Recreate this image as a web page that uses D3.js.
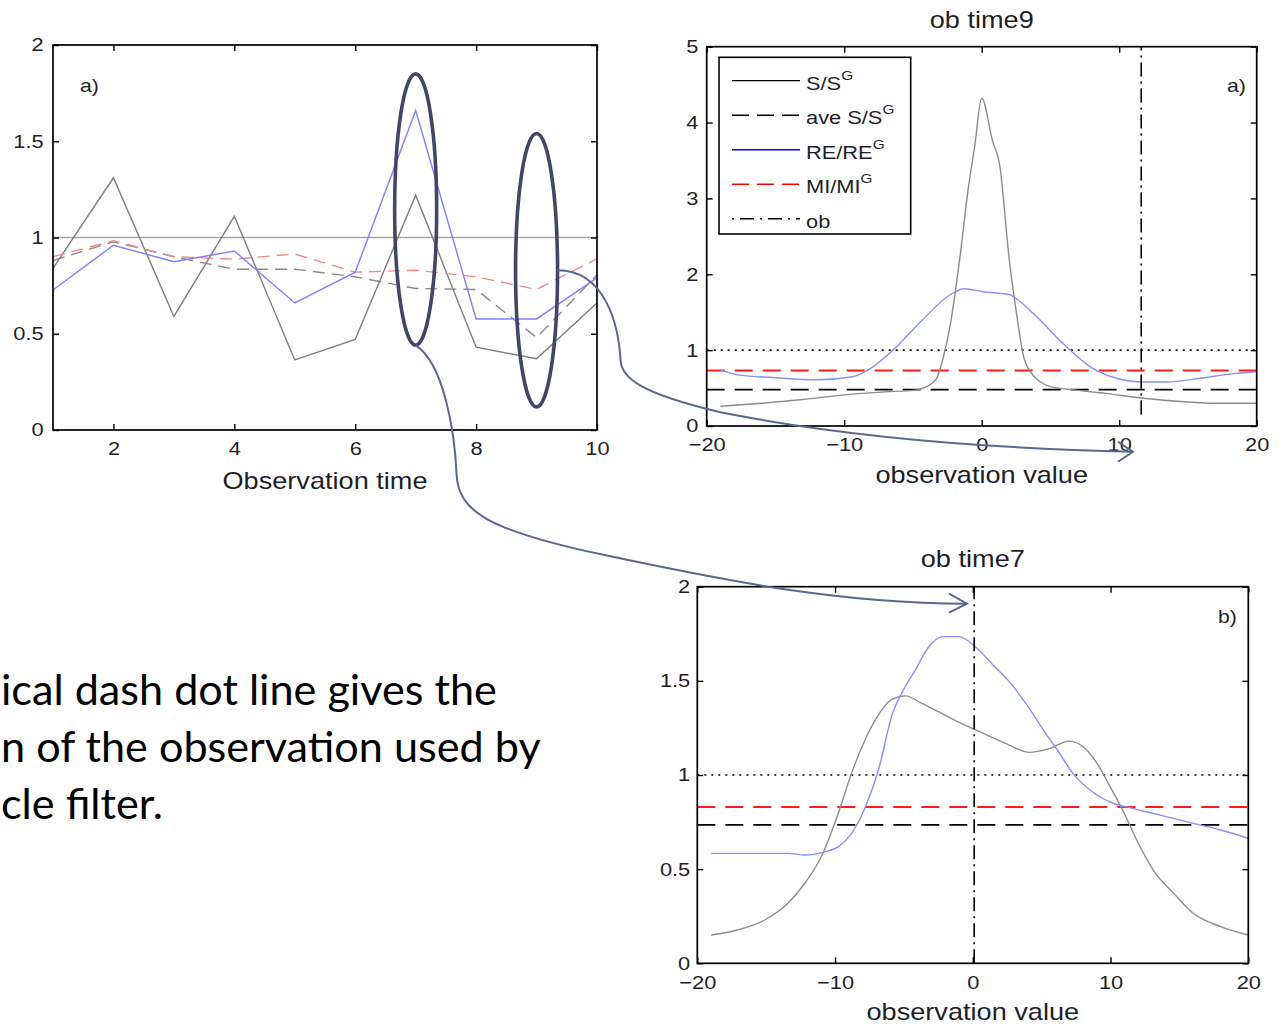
<!DOCTYPE html>
<html>
<head>
<meta charset="utf-8">
<script src="https://cdn.jsdelivr.net/npm/d3@7"></script>
<style>
  body { margin: 0; background: #fff; }
  svg { display: block; }
</style>
</head>
<body>
<svg id="fig" width="1282" height="1024"></svg>
<script>
// ---- Panel a (left): normalised diagnostics per observation time ----
const obsTimes = [1, 2, 3, 4, 5, 6, 7, 8, 9, 10];
const ssRatio  = [0.84, 1.31, 0.59, 1.11, 0.364, 0.47, 1.22, 0.43, 0.37, 0.66];
const aveSsRatio = [0.88, 0.978, 0.90, 0.835, 0.835, 0.796, 0.735, 0.73, 0.48, 0.805];
const reRatio  = [0.727, 0.96, 0.874, 0.93, 0.66, 0.82, 1.66, 0.577, 0.577, 0.79];
const miRatio  = [0.90, 0.983, 0.90, 0.888, 0.914, 0.82, 0.83, 0.796, 0.73, 0.89];
const leftXTicks = [2, 4, 6, 8, 10];
const leftYTicks = [0, 0.5, 1, 1.5, 2];
// times singled out and the span of each highlight
const highlightTimes = [7, 9];
const highlightLo = [0.44, 0.12];
const highlightHi = [1.85, 1.54];

// ---- Panel "ob time9": diagnostics as functions of the observation value ----
const t9SsX = [-19, -16, -13, -10, -7, -5, -4, -3.3, -2.8, -2.3, -1.6, -1.0, -0.5, 0, 0.8, 1.3, 2.0, 2.6, 3.0, 3.6, 4.2, 5.0, 7, 9, 11.6, 14.7, 17, 20];
const t9SsY = [0.26, 0.30, 0.35, 0.41, 0.45, 0.47, 0.52, 0.62, 0.90, 1.32, 2.2, 3.1, 3.7, 4.32, 3.75, 3.45, 2.2, 1.4, 0.95, 0.70, 0.59, 0.52, 0.47, 0.43, 0.37, 0.32, 0.30, 0.30];
const t9ReX = [-19, -17.6, -15.2, -12, -9.4, -7.9, -6.45, -4.3, -2.3, -1.3, 0.1, 2.06, 2.5, 4.0, 5.9, 7.9, 9.8, 11.8, 13.5, 15.9, 18.3, 20];
const t9ReY = [0.74, 0.67, 0.64, 0.61, 0.65, 0.78, 1.0, 1.40, 1.73, 1.81, 1.77, 1.73, 1.68, 1.44, 1.09, 0.78, 0.63, 0.58, 0.58, 0.63, 0.69, 0.715];
const t9AveSs = 0.48;
const t9Mi = 0.73;
const t9Ob = 11.6;
const t9XTicks = [-20, -10, 0, 10, 20];
const t9YTicks = [0, 1, 2, 3, 4, 5];

// ---- Panel "ob time7" ----
const t7SsX = [-19, -17.1, -15.1, -13.4, -12.2, -11, -9.75, -8.8, -7.8, -7.1, -5.9, -4.9, -3.7, -2.5, -1.0, 0.2, 1.4, 2.6, 4.1, 5.55, 7.0, 8.0, 8.95, 9.95, 10.9, 11.9, 13.1, 14.6, 16.0, 18.0, 20];
const t7SsY = [0.15, 0.177, 0.23, 0.32, 0.425, 0.566, 0.80, 1.01, 1.19, 1.29, 1.40, 1.42, 1.38, 1.336, 1.28, 1.24, 1.20, 1.16, 1.12, 1.14, 1.18, 1.15, 1.07, 0.94, 0.81, 0.655, 0.495, 0.37, 0.266, 0.195, 0.15];
const t7ReX = [-19, -13.4, -12.2, -10.7, -9.75, -8.8, -7.8, -6.8, -5.9, -4.9, -4.16, -3.2, -2.2, -1.0, 0.2, 1.4, 2.6, 3.85, 5.3, 6.3, 7.25, 8.7, 10.2, 11.6, 13.6, 16.0, 18.0, 20];
const t7ReY = [0.584, 0.584, 0.575, 0.593, 0.62, 0.69, 0.83, 1.04, 1.31, 1.47, 1.56, 1.68, 1.735, 1.735, 1.68, 1.59, 1.50, 1.38, 1.22, 1.115, 1.01, 0.91, 0.85, 0.823, 0.787, 0.743, 0.708, 0.664];
const t7AveSs = 0.735;
const t7Mi = 0.83;
const t7Ob = 0.1;
const t7XTicks = [-20, -10, 0, 10, 20];
const t7YTicks = [0, 0.5, 1, 1.5, 2];

const legendLabels = ["S/S", "ave S/S", "RE/RE", "MI/MI", "ob"];
const legendSup = ["G", "G", "G", "G", ""];
const noteLines = ["ical dash dot line gives the", "n of the observation used by", "cle filter."];

// ---------------------------------------------------------------
const FONT = "'Liberation Sans', Arial, sans-serif";
const SX = 1.18;            // the figure's lettering is set slightly wide
const tickFmt = d3.format("~g");
const svg = d3.select("#fig");
svg.append("rect").attr("width", 1282).attr("height", 1024).attr("fill", "#fff");

function label(g, x, y, txt, size, anchor) {
  return g.append("text")
    .attr("transform", `translate(${x},${y}) scale(${SX},1)`)
    .attr("text-anchor", anchor || "middle")
    .attr("font-family", FONT)
    .attr("font-size", size)
    .attr("fill", "#1e1e28")
    .text(txt);
}

function axes(g, xs, ys, xt, yt, xpad, ypad) {
  const [x0, x1] = xs.range();
  const [y0, y1] = ys.range();
  g.append("g").attr("transform", `translate(0,${y0})`)
    .call(d3.axisBottom(xs).tickValues(xt).tickSize(-6).tickPadding(xpad).tickFormat(tickFmt));
  g.append("g").attr("transform", `translate(0,${y1})`)
    .call(d3.axisTop(xs).tickValues(xt).tickSize(-6).tickFormat(""));
  g.append("g").attr("transform", `translate(${x0},0)`)
    .call(d3.axisLeft(ys).tickValues(yt).tickSize(-6).tickPadding(ypad).tickFormat(tickFmt));
  g.append("g").attr("transform", `translate(${x1},0)`)
    .call(d3.axisRight(ys).tickValues(yt).tickSize(-6).tickFormat(""));
  g.selectAll(".domain").remove();
  g.selectAll(".tick line").attr("stroke", "#000").attr("stroke-width", 1.4);
  g.selectAll(".tick text")
    .attr("font-family", FONT).attr("font-size", 18.5).attr("fill", "#1e1e28")
    .attr("transform", `scale(${SX},1)`);
  g.append("rect")
    .attr("x", x0).attr("y", y1).attr("width", x1 - x0).attr("height", y0 - y1)
    .attr("fill", "none").attr("stroke", "#000").attr("stroke-width", 1.7);
}

function curve(g, xs, ys, X, Y, color, width, dash, type) {
  const pts = X.map((x, i) => [x, Y[i]]);
  g.append("path").datum(pts)
    .attr("d", d3.line().x(d => xs(d[0])).y(d => ys(d[1])).curve(type || d3.curveLinear))
    .attr("fill", "none").attr("stroke", color).attr("stroke-width", width)
    .attr("stroke-dasharray", dash || null);
}

function hline(g, xs, ys, v, color, width, dash) {
  const [x0, x1] = xs.range();
  g.append("line").attr("x1", x0).attr("x2", x1).attr("y1", ys(v)).attr("y2", ys(v))
    .attr("stroke", color).attr("stroke-width", width).attr("stroke-dasharray", dash || null);
}

function vline(g, xs, ys, v, lo, hi) {
  g.append("line").attr("x1", xs(v)).attr("x2", xs(v)).attr("y1", ys(lo)).attr("y2", ys(hi))
    .attr("stroke", "#000").attr("stroke-width", 1.6).attr("stroke-dasharray", "14,5,2,5");
}

// ---------------- Panel a ----------------
const gL = svg.append("g");
const xL = d3.scaleLinear().domain([1, 10]).range([53, 597]);
const yL = d3.scaleLinear().domain([0, 2]).range([430, 45]);
hline(gL, xL, yL, 1, "#a6a6a6", 1.5);
curve(gL, xL, yL, obsTimes, ssRatio, "#7d7d7d", 1.4);
curve(gL, xL, yL, obsTimes, aveSsRatio, "#8a8a8a", 1.4, "12,7");
curve(gL, xL, yL, obsTimes, miRatio, "#f08a8a", 1.4, "12,7");
curve(gL, xL, yL, obsTimes, reRatio, "#7f7fff", 1.4);
axes(gL, xL, yL, leftXTicks, leftYTicks, 12, 8);
label(gL, 80, 92, "a)", 18, "start");
label(gL, (xL.range()[0] + xL.range()[1]) / 2, 489, "Observation time", 23);

// ---------------- Panel ob time9 ----------------
const gA = svg.append("g");
const xA = d3.scaleLinear().domain([-20, 20]).range([706.7, 1256.7]);
const yA = d3.scaleLinear().domain([0, 5]).range([426, 46.7]);
hline(gA, xA, yA, 1, "#000", 1.6, "2,5");
hline(gA, xA, yA, t9Mi, "#ff1a1a", 2, "18,10");
hline(gA, xA, yA, t9AveSs, "#000", 1.8, "18,10");
curve(gA, xA, yA, t9SsX, t9SsY, "#8c8c8c", 1.4, null, d3.curveMonotoneX);
curve(gA, xA, yA, t9ReX, t9ReY, "#8c8cff", 1.4, null, d3.curveMonotoneX);
vline(gA, xA, yA, t9Ob, 0.15, 5);
axes(gA, xA, yA, t9XTicks, t9YTicks, 12, 7);
label(gA, 1227, 92, "a)", 18, "start");
label(gA, xA(0), 28, "ob time9", 23);
label(gA, xA(0), 483, "observation value", 23);

// legend
const lg = gA.append("g");
const legX0 = 719, legY0 = 57.3, legW = 191.7, legH = 176.7, rowGap = 34.5, row0 = 80.7;
lg.append("rect").attr("x", legX0).attr("y", legY0).attr("width", legW).attr("height", legH)
  .attr("fill", "#fff").attr("stroke", "#000").attr("stroke-width", 1.6);
const legStyles = [
  { c: "#000", d: null, w: 1.3 },
  { c: "#000", d: "17,8", w: 1.5 },
  { c: "#0000ff", d: null, w: 1.6 },
  { c: "#ff0000", d: "17,8", w: 1.6 },
  { c: "#000", d: "2,6,14,6", w: 1.5 }
];
legendLabels.forEach((t, i) => {
  const y = row0 + i * rowGap;
  lg.append("line").attr("x1", 732).attr("x2", 800).attr("y1", y).attr("y2", y)
    .attr("stroke", legStyles[i].c).attr("stroke-width", legStyles[i].w)
    .attr("stroke-dasharray", legStyles[i].d);
  const tx = label(lg, 806, y + 9, t, 18.5, "start");
  if (legendSup[i]) {
    tx.append("tspan").attr("dy", -10).attr("font-size", 13).text(legendSup[i]);
  }
});

// ---------------- Panel ob time7 ----------------
const gB = svg.append("g");
const xB = d3.scaleLinear().domain([-20, 20]).range([697.3, 1248.3]);
const yB = d3.scaleLinear().domain([0, 2]).range([963.3, 586.7]);
hline(gB, xB, yB, 1, "#000", 1.6, "2,5");
hline(gB, xB, yB, t7Mi, "#ff1a1a", 2, "18,10");
hline(gB, xB, yB, t7AveSs, "#000", 1.8, "18,10");
curve(gB, xB, yB, t7SsX, t7SsY, "#8c8c8c", 1.4, null, d3.curveMonotoneX);
curve(gB, xB, yB, t7ReX, t7ReY, "#8c8cff", 1.4, null, d3.curveMonotoneX);
vline(gB, xB, yB, t7Ob, 0, 2);
axes(gB, xB, yB, t7XTicks, t7YTicks, 13, 6);
label(gB, 1218, 623, "b)", 18, "start");
label(gB, xB(0), 567, "ob time7", 23);
label(gB, xB(0), 1020, "observation value", 23);

// ---------------- Highlights and connectors ----------------
const ann = svg.append("g");
highlightTimes.forEach((t, i) => {
  const cy = (yL(highlightLo[i]) + yL(highlightHi[i])) / 2;
  const ry = (yL(highlightLo[i]) - yL(highlightHi[i])) / 2;
  ann.append("ellipse").attr("cx", xL(t)).attr("cy", cy).attr("rx", 21).attr("ry", ry)
    .attr("fill", "none").attr("stroke", "#3f4767").attr("stroke-width", 3.6);
});

const linkColor = "#5b6693";
// time 7 -> lower panel, arrow ends at the observation line
const s1 = [xL(7), yL(highlightLo[0])];
const e1 = [xB(-0.42), yB(1.91)];
ann.append("path")
  .attr("d", `M${s1[0]},${s1[1]} C${s1[0] + 28},${s1[1] + 18} ${s1[0] + 39},${s1[1] + 85} ${s1[0] + 41},${s1[1] + 130}`
    + ` C${s1[0] + 43},${s1[1] + 165} ${s1[0] + 70},${s1[1] + 185} ${s1[0] + 190},${s1[1] + 210}`
    + ` C${e1[0] - 242},${e1[1] - 23} ${e1[0] - 128},${e1[1]} ${e1[0]},${e1[1]}`)
  .attr("fill", "none").attr("stroke", linkColor).attr("stroke-width", 2);
ann.append("path")
  .attr("d", `M${e1[0] - 18},${e1[1] - 10} L${e1[0]},${e1[1]} L${e1[0] - 18},${e1[1] + 9}`)
  .attr("fill", "none").attr("stroke", linkColor).attr("stroke-width", 2);

// time 9 -> upper panel, arrow below its axis
const s2 = [xL(9) + 21, (yL(highlightLo[1]) + yL(highlightHi[1])) / 2];
const e2 = [xA(11.0), yA(-0.34)];
ann.append("path")
  .attr("d", `M${s2[0]},${s2[1]} C${s2[0] + 48},${s2[1]} ${s2[0] + 61},${s2[1] + 55} ${s2[0] + 63},${s2[1] + 90}`
    + ` C${s2[0] + 64},${s2[1] + 108} ${s2[0] + 83},${s2[1] + 123} ${s2[0] + 163},${s2[1] + 142}`
    + ` C${s2[0] + 263},${s2[1] + 162} ${e2[0] - 173},${e2[1] - 4} ${e2[0]},${e2[1]}`)
  .attr("fill", "none").attr("stroke", linkColor).attr("stroke-width", 2);
ann.append("path")
  .attr("d", `M${e2[0] - 15},${e2[1] - 10} L${e2[0]},${e2[1]} L${e2[0] - 15},${e2[1] + 10}`)
  .attr("fill", "none").attr("stroke", linkColor).attr("stroke-width", 2);

// ---------------- Explanatory note ----------------
const note = svg.append("g");
const noteBase = [705, 762, 819];
const noteNodes = noteLines.map((t, i) =>
  note.append("text").attr("x", 1).attr("y", noteBase[i])
    .attr("font-family", "Lato, 'Open Sans', sans-serif").attr("font-size", 40)
    .attr("fill", "#000").text(t));
const w0 = noteNodes[0].node().getComputedTextLength();
const fs = 40 * 496 / w0;
noteNodes.forEach(n => n.attr("font-size", fs));
</script>
</body>
</html>
